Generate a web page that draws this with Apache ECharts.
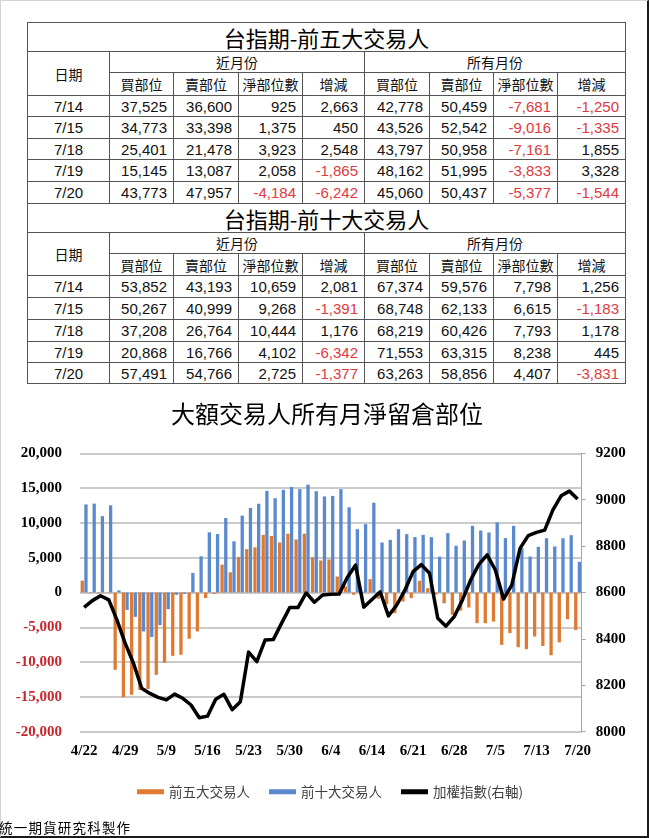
<!DOCTYPE html>
<html><head><meta charset="utf-8">
<script src="https://cdn.jsdelivr.net/npm/echarts@6/dist/echarts.min.js"></script>
<style>
html,body{margin:0;padding:0;background:#fff;}
body{width:650px;height:838px;position:relative;overflow:hidden;font-family:"Noto Sans CJK TC","Noto Sans",sans-serif;}
#frame{position:absolute;left:0;top:0;width:646px;height:835px;border-top:1px solid #d4d4d4;border-left:1px solid #d4d4d4;border-right:2px solid #1a1a1a;border-bottom:2px solid #1a1a1a;}
.cell{position:absolute;box-sizing:border-box;border:1px solid #555;display:flex;align-items:center;white-space:nowrap;overflow:hidden;color:#111;background:#fff;}
.ttl{justify-content:center;font-size:22px;color:#000;}
.hdr{justify-content:center;font-size:14px;}
.date{justify-content:center;font-size:15px;font-family:"Liberation Sans Narrow","Liberation Sans",sans-serif;}
.num{justify-content:flex-end;padding-right:6px;font-size:15px;font-family:"Liberation Sans Narrow","Liberation Sans",sans-serif;}
.neg{color:#e0393e;}
#chart{position:absolute;left:0;top:383px;width:646px;height:452px;}
#foot{position:absolute;left:-1px;top:819px;font-size:13.5px;line-height:17px;color:#000;letter-spacing:1.2px;}
</style></head>
<body>
<div id="frame"></div>
<div id="chart"></div>
<div id="foot">統一期貨研究科製作</div>
<script>
// ---- table data ----
const tableDates = ['7/14','7/15','7/18','7/19','7/20'];
const top5Near  = [[37525,36600,925,2663],[34773,33398,1375,450],[25401,21478,3923,2548],[15145,13087,2058,-1865],[43773,47957,-4184,-6242]];
const top5All   = [[42778,50459,-7681,-1250],[43526,52542,-9016,-1335],[43797,50958,-7161,1855],[48162,51995,-3833,3328],[45060,50437,-5377,-1544]];
const top10Near = [[53852,43193,10659,2081],[50267,40999,9268,-1391],[37208,26764,10444,1176],[20868,16766,4102,-6342],[57491,54766,2725,-1377]];
const top10All  = [[67374,59576,7798,1256],[68748,62133,6615,-1183],[68219,60426,7793,1178],[71553,63315,8238,445],[63263,58856,4407,-3831]];
const tableHeaders = ['買部位','賣部位','淨部位數','增減'];

// ---- chart data ----
const chartTitle = '大額交易人所有月淨留倉部位';
const categories = ['4/22','4/25','4/26','4/27','4/28','4/29','5/3','5/4','5/5','5/6','5/9','5/10','5/11','5/12','5/13','5/16','5/17','5/18','5/19','5/20','5/23','5/24','5/25','5/26','5/27','5/30','5/31','6/1','6/2','6/3','6/4','6/6','6/7','6/8','6/13','6/14','6/15','6/16','6/17','6/20','6/21','6/22','6/23','6/24','6/27','6/28','6/29','6/30','7/1','7/4','7/5','7/6','7/7','7/11','7/12','7/13','7/14','7/15','7/18','7/19','7/20'];
const top5Net = [1700,-100,-150,-50,-11100,-15050,-14700,-14000,-13850,-11830,-10100,-9100,-8950,-6650,-5600,-790,-200,4000,2900,5100,6230,6490,8290,8120,7190,8450,7620,8450,5060,4600,4750,2300,880,-330,100,1920,-900,-1700,-2970,-1290,-810,1680,620,-300,-1550,-3200,-2600,-2150,-4410,-4410,-4170,-7520,-5840,-7860,-8140,-6320,-7681,-9016,-7161,-3833,-5377];
const top10Net = [12650,12770,10970,12520,300,-2500,-3500,-5600,-6400,-4700,-2400,-330,-200,2800,5200,8650,8400,10700,7350,11050,12150,12750,14600,13550,14750,15150,14850,15500,14550,13800,13880,14850,12240,9100,9820,12900,7190,7570,9100,8380,7970,8290,7950,5150,8530,6730,7470,9580,8910,8620,10080,7810,9580,6370,5170,6560,7798,6615,7793,8238,4407];
const indexValues = [8536,8565,8586,8568,8481,8381,8295,8187,8165,8148,8137,8162,8144,8115,8060,8067,8140,8161,8095,8129,8343,8302,8395,8397,8467,8535,8535,8598,8558,8589,8592,8593,8665,8718,8537,8570,8603,8499,8545,8610,8690,8720,8683,8489,8455,8496,8568,8654,8721,8762,8697,8572,8632,8790,8845,8859,8869,8956,9017,9037,9003];
const leftTicks = {min:-20000,max:20000,interval:5000};
const rightTicks = {min:8000,max:9200,interval:200};

// ---- tables ----
const colX = [27,109,173,238,302,364,429,493,557,625];
function cell(x0,y0,x1,y1,text,cls){
  const d=document.createElement('div');
  d.className='cell '+cls;
  d.style.left=x0+'px'; d.style.top=y0+'px';
  d.style.width=(x1-x0+1)+'px'; d.style.height=(y1-y0+1)+'px';
  d.textContent=text; document.body.appendChild(d); return d;
}
function fmt(n){return n.toLocaleString('en-US');}
function drawTable(rowY,title,near,all){
  cell(colX[0],rowY[0],colX[9],rowY[1],title,'ttl');
  cell(colX[0],rowY[1],colX[1],rowY[3],'日期','hdr');
  cell(colX[1],rowY[1],colX[5],rowY[2],'近月份','hdr');
  cell(colX[5],rowY[1],colX[9],rowY[2],'所有月份','hdr');
  for(let k=0;k<8;k++){cell(colX[k+1],rowY[2],colX[k+2],rowY[3],tableHeaders[k%4],'hdr');}
  for(let r=0;r<tableDates.length;r++){
    const y0=rowY[r+3],y1=rowY[r+4];
    cell(colX[0],y0,colX[1],y1,tableDates[r],'date');
    const vals=near[r].concat(all[r]);
    vals.forEach((v,k)=>cell(colX[k+1],y0,colX[k+2],y1,fmt(v),'num'+(v<0?' neg':'')));
  }
}
drawTable([22,51,72,95,116,138,159,181,203],'台指期-前五大交易人',top5Near,top5All);
drawTable([203,232,253,275,297,319,341,362,383],'台指期-前十大交易人',top10Near,top10All);

// ---- chart ----
const chart = echarts.init(document.getElementById('chart'),null,{renderer:'canvas'});
const axisFont = {fontFamily:'"Liberation Serif","Times New Roman",serif',fontWeight:'bold',fontSize:15};
chart.setOption({
  animation:false,
  title:{text:chartTitle,left:322,textAlign:'center',top:14,
    textStyle:{fontSize:24,fontWeight:'normal',color:'#000',fontFamily:'"Noto Sans CJK TC",sans-serif'}},
  legend:{left:132,top:397,itemWidth:27,itemHeight:5,itemGap:19,
    textStyle:{fontSize:13.5,color:'#404040',fontFamily:'"Noto Sans CJK TC",sans-serif'},
    data:[{name:'前五大交易人',icon:'rect'},{name:'前十大交易人',icon:'rect'},{name:'加權指數(右軸)',icon:'rect'}]},
  grid:{left:80,right:64.3,top:70.3,bottom:103.3,containLabel:false,outerBoundsMode:'none'},
  xAxis:{type:'category',data:categories,boundaryGap:true,position:'bottom',
    axisLine:{show:false,onZero:false},axisTick:{show:false},splitLine:{show:false},
    axisLabel:Object.assign({interval:4,margin:12,color:'#000',hideOverlap:false},axisFont)},
  yAxis:[
    {type:'value',min:leftTicks.min,max:leftTicks.max,interval:leftTicks.interval,position:'left',
     axisLine:{show:false},axisTick:{show:false},
     splitLine:{show:true,lineStyle:{color:'#b8b8b8',width:1.5}},
     axisLabel:Object.assign({margin:18,formatter:v=>Number(v).toLocaleString('en-US'),
       color:v=>Number(v)<0?'#c8262c':'#000'},axisFont)},
    {type:'value',min:rightTicks.min,max:rightTicks.max,interval:rightTicks.interval,position:'right',
     axisLine:{show:true,lineStyle:{color:'#a6a6a6',width:1}},
     axisTick:{show:true,inside:false,length:4,lineStyle:{color:'#a6a6a6'}},
     splitLine:{show:false},
     axisLabel:Object.assign({margin:14,color:'#000',formatter:v=>String(v)},axisFont)}
  ],
  series:[
    {name:'前五大交易人',type:'bar',data:top5Net,barWidth:3.3,barGap:'12%',itemStyle:{color:'#DE7A32'}},
    {name:'前十大交易人',type:'bar',data:top10Net,barWidth:3.3,itemStyle:{color:'#5A89CE'}},
    {name:'加權指數(右軸)',type:'line',yAxisIndex:1,data:indexValues,symbol:'none',showSymbol:false,z:5,
     legendIcon:'rect',
     lineStyle:{color:'#000',width:3.5,join:'round'},itemStyle:{color:'#000'}}
  ]
});
</script>
</body></html>
